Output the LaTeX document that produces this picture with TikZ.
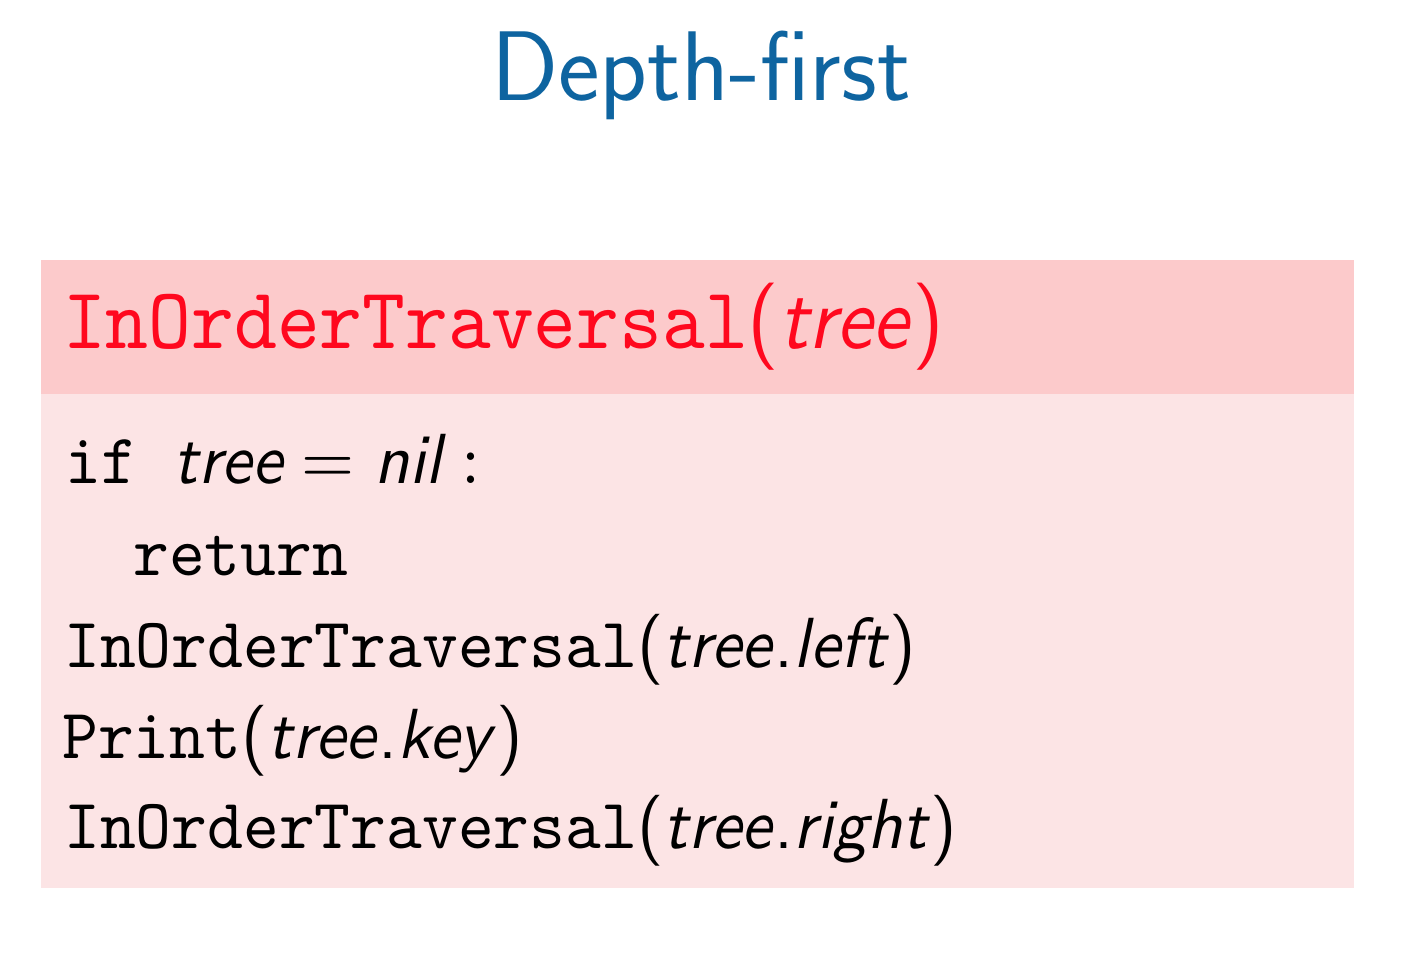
\documentclass[tikz,border=0pt]{standalone}
\usepackage{fontspec}
\usepackage{graphicx}
\newfontfamily\codett{lmmono10-regular}[Extension=.otf]
\newfontfamily\sansup{lmsans10-regular}[Extension=.otf]
\newfontfamily\sansit{lmsans10-oblique}[Extension=.otf]
\newfontfamily\romten{lmroman10-regular}[Extension=.otf]
\definecolor{titleblue}{RGB}{14,100,160}
\definecolor{codered}{RGB}{255,8,30}
\definecolor{headbg}{RGB}{252,202,203}
\definecolor{bodybg}{RGB}{252,228,229}
\newcommand{\vv}[1]{{\sansit #1\/}}
\newcommand{\pp}[1]{{\sansup #1}}
\newcommand{\tts}[1]{{\codett #1}}
\newcommand{\bodyline}[1]{\scalebox{1}[1.04]{#1}}
\tikzset{
  codeline/.style={anchor=base west, inner sep=0pt, font=\fontsize{68.2}{72}\selectfont},
  blockpart/.style={anchor=north west, inner sep=0pt, draw=none, minimum width=1313pt},
}
\begin{document}
\begin{tikzpicture}[x=1pt,y=-1pt]
\useasboundingbox (0,0) rectangle (1408,964);
\fill[white] (0,0) rectangle (1408,964);
\node[blockpart, fill=headbg, minimum height=134pt] (head) at (41,260) {};
\node[blockpart, fill=bodybg, minimum height=494pt] (body) at (41,394) {};
\node[anchor=base, inner sep=0pt, text=titleblue, font=\fontsize{99}{110}\selectfont\sffamily] (title) at (701,100) {Depth-first};
\node[anchor=base west, inner sep=0pt, text=codered, font=\fontsize{81.5}{90}\selectfont] (hdr) at (63,348)
  {\scalebox{1}[1.07]{\tts{InOrderTraversal}\pp{(}\vv{tree}\pp{)}}};
\node[codeline] (l1) at (65,483) {\bodyline{\tts{if}\hspace{37pt}\vv{tree}\hspace{17pt}{\romten =}\hspace{19pt}\vv{nil}\hspace{15pt}{\romten :}}};
\node[codeline] (l2) at (133,575) {\bodyline{\tts{return}}};
\node[codeline] (l3) at (64,667) {\bodyline{\tts{InOrderTraversal}\pp{(}\vv{tree}\pp{.}\vv{left}\pp{)}}};
\node[codeline] (l4) at (62,758) {\bodyline{\tts{Print}\pp{(}\vv{tree}\pp{.}\vv{key}\pp{)}}};
\node[codeline] (l5) at (64,848) {\bodyline{\tts{InOrderTraversal}\pp{(}\vv{tree}\pp{.}\vv{right}\pp{)}}};
\end{tikzpicture}
\end{document}
